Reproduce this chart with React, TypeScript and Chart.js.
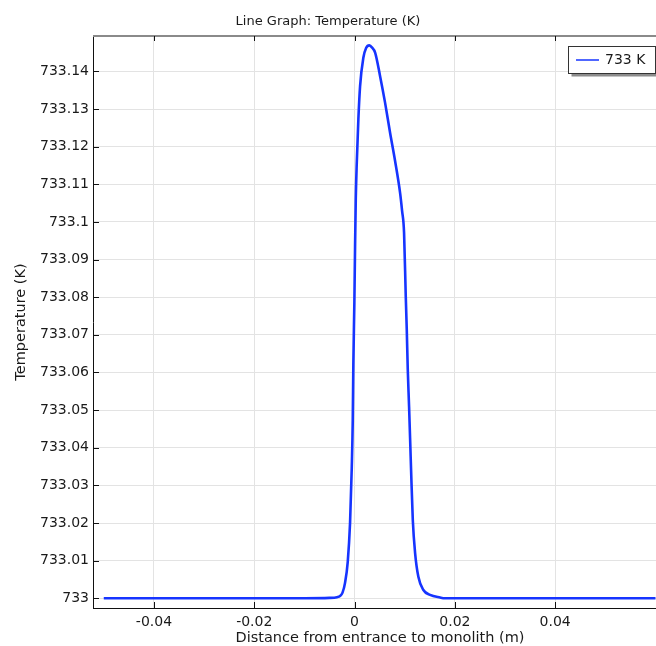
import { useEffect, useRef } from "react";
import { Chart, registerables } from "chart.js";
Chart.register(...registerables);

const chartTitle = "Line Graph: Temperature (K)";
const xAxisTitle = "Distance from entrance to monolith (m)";
const yAxisTitle = "Temperature (K)";
const seriesLabel = "733 K";

const distance = [
  -0.05, -0.03, -0.01, -0.005, -0.0035, -0.0029, -0.0024, -0.0019, -0.00136,
  -0.0009, -0.00056, -0.00036, -0.00024, -0.00004, 0.0001, 0.00024, 0.00044,
  0.00076, 0.0011, 0.00175, 0.0023, 0.00295, 0.0035, 0.0041, 0.00508, 0.00608,
  0.00708, 0.00808, 0.00907, 0.00947, 0.00987, 0.01021, 0.01041, 0.01061,
  0.01087, 0.01113, 0.01127, 0.01161, 0.01207, 0.01272, 0.01372, 0.01505,
  0.01705, 0.018, 0.03, 0.045, 0.06,
];
const temperature = [
  733.0, 733.0, 733.0, 733.0001, 733.0003, 733.0006, 733.0015, 733.0041,
  733.0097, 733.02, 733.0346, 733.0473, 733.0625, 733.0785, 733.0934, 733.106,
  733.1157, 733.1273, 733.1361, 733.1436, 733.1462, 733.1469, 733.1463,
  733.145, 733.1388, 733.1317, 733.1237, 733.1162, 733.1078, 733.103, 733.0971,
  733.0801, 733.0713, 733.0607, 733.0509, 733.04, 733.034, 733.0208, 733.012,
  733.0057, 733.0022, 733.0009, 733.0002, 733.0, 733.0, 733.0, 733.0,
];
const xTicks = [-0.04, -0.02, 0, 0.02, 0.04];
const yTicks = [
  733, 733.01, 733.02, 733.03, 733.04, 733.05, 733.06, 733.07, 733.08, 733.09,
  733.1, 733.11, 733.12, 733.13, 733.14,
];

const FONT = "'DejaVu Sans', sans-serif";
const LINE_COLOR = "rgb(22, 52, 255)";
const TEXT_COLOR = "#1a1a1a";

const framePlugin = {
  id: "frame",
  afterDraw(chart: any) {
    const { ctx, chartArea } = chart;
    const { left, right, top, bottom } = chartArea;
    const xs = chart.scales.x;
    const ys = chart.scales.y;
    ctx.save();
    // top border
    ctx.strokeStyle = "#8a8a8a";
    ctx.lineWidth = 2;
    ctx.beginPath();
    ctx.moveTo(left, top);
    ctx.lineTo(right, top);
    ctx.stroke();
    // inward ticks
    ctx.strokeStyle = "#111";
    ctx.lineWidth = 1;
    ctx.beginPath();
    for (const v of yTicks) {
      const y = Math.round(ys.getPixelForValue(v)) + 0.5;
      ctx.moveTo(left, y);
      ctx.lineTo(left + 6, y);
    }
    for (const v of xTicks) {
      const x = Math.round(xs.getPixelForValue(v)) + 0.5;
      ctx.moveTo(x, bottom);
      ctx.lineTo(x, bottom - 6);
      ctx.moveTo(x, top);
      ctx.lineTo(x, top + 5);
    }
    ctx.stroke();

    // x-axis title
    ctx.fillStyle = TEXT_COLOR;
    ctx.font = `14.5px ${FONT}`;
    ctx.textAlign = "center";
    ctx.textBaseline = "middle";
    ctx.fillText(xAxisTitle, 380, 638);

    // legend
    const bx = 568.5, by = 46.5, bw = 87, bh = 27;
    ctx.fillStyle = "#8c8c8c";
    ctx.fillRect(bx + 3, by + 3, bw, bh);
    ctx.fillStyle = "#fff";
    ctx.fillRect(bx, by, bw, bh);
    ctx.strokeStyle = "#333";
    ctx.lineWidth = 1;
    ctx.strokeRect(bx, by, bw, bh);
    ctx.strokeStyle = LINE_COLOR;
    ctx.lineWidth = 1.5;
    ctx.beginPath();
    ctx.moveTo(576, 60);
    ctx.lineTo(599, 60);
    ctx.stroke();
    ctx.fillStyle = TEXT_COLOR;
    ctx.font = `14px ${FONT}`;
    ctx.textAlign = "left";
    ctx.fillText(seriesLabel, 605, 60.5);
    ctx.restore();
  },
};

export default function App() {
  const ref = useRef<HTMLCanvasElement | null>(null);
  useEffect(() => {
    document.body.style.margin = "0";
    const canvas = ref.current;
    if (!canvas) return;
    const points = distance.map((d, i) => ({ x: d, y: temperature[i] }));
    const chart = new Chart(canvas, {
      type: "line",
      data: {
        datasets: [
          {
            label: seriesLabel,
            data: points,
            borderColor: LINE_COLOR,
            borderWidth: 2.6,
            pointRadius: 0,
            cubicInterpolationMode: "monotone",
            fill: false,
          },
        ],
      },
      options: {
        animation: false,
        responsive: false,
        devicePixelRatio: 1,
        layout: { padding: { left: 0, right: 0, top: 0, bottom: 0 } },
        plugins: {
          legend: { display: false },
          tooltip: { enabled: false },
          title: {
            display: true,
            text: chartTitle,
            color: TEXT_COLOR,
            font: { family: FONT, size: 13, weight: "normal" },
            padding: { top: 13.5, bottom: 6.9 },
          },
        },
        scales: {
          x: {
            type: "linear",
            min: -0.05215,
            max: 0.0601,
            afterBuildTicks: (s: any) => {
              s.ticks = xTicks.map((v) => ({ value: v }));
            },
            afterFit: (s: any) => {
              s.height = 38;
            },
            grid: { color: "#e3e3e3", lineWidth: 1, drawTicks: false },
            border: { display: true, color: "#111", width: 1 },
            ticks: {
              padding: 6,
              color: TEXT_COLOR,
              font: { family: FONT, size: 14 },
              maxRotation: 0,
              callback: (v: any) => String(Number(Number(v).toFixed(2))),
            },
          },
          y: {
            type: "linear",
            min: 732.99742,
            max: 733.1494,
            afterBuildTicks: (s: any) => {
              s.ticks = yTicks.map((v) => ({ value: v }));
            },
            afterFit: (s: any) => {
              s.width = 93;
            },
            grid: { color: "#e3e3e3", lineWidth: 1, drawTicks: false },
            border: { display: true, color: "#111", width: 1 },
            title: {
              display: true,
              text: yAxisTitle,
              color: TEXT_COLOR,
              font: { family: FONT, size: 14.5 },
              padding: { top: 12.5, bottom: 0 },
            },
            ticks: {
              padding: 4,
              color: TEXT_COLOR,
              font: { family: FONT, size: 14 },
              callback: (v: any) => String(Number(Number(v).toFixed(2))),
            },
          },
        },
      } as any,
      plugins: [framePlugin],
    });
    return () => chart.destroy();
  }, []);
  return (
    <div style={{ width: 656, height: 646 }}>
      <canvas ref={ref} width={656} height={646} />
    </div>
  );
}
